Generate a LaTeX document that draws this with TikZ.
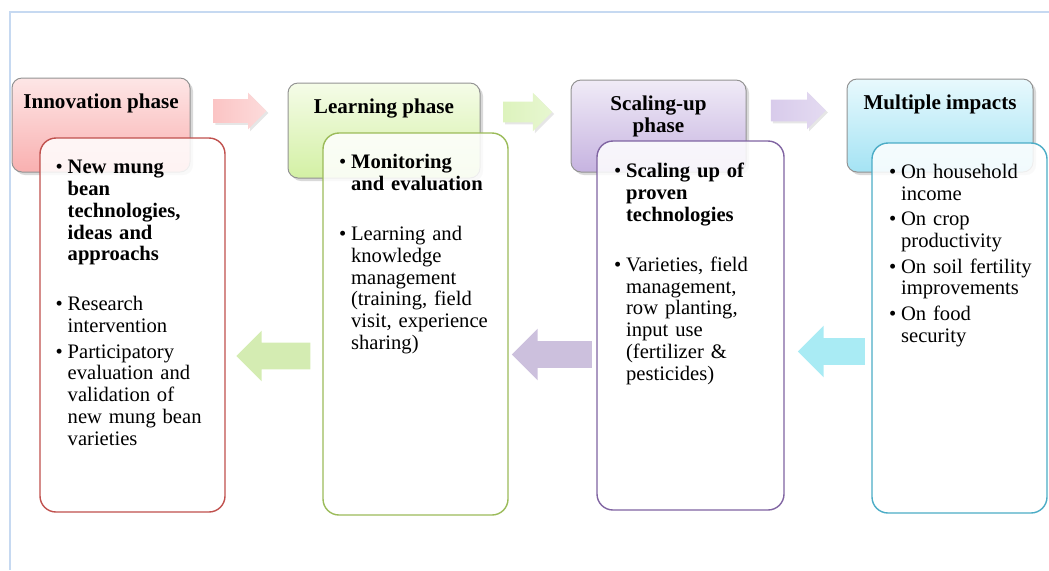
\documentclass[tikz,border=0pt]{standalone}
\usepackage{fontspec}
\setmainfont{Liberation Serif}
\usetikzlibrary{positioning,shapes.arrows,shadows}

\definecolor{frameblue}{HTML}{C6D9F1}
\definecolor{redL}{HTML}{C0504D}
\definecolor{greenL}{HTML}{9BBB59}
\definecolor{purpL}{HTML}{8064A2}
\definecolor{cyanL}{HTML}{4BACC6}
% header gradients
\definecolor{pinkT}{HTML}{FDE6E6}
\definecolor{pinkB}{HTML}{F9B0B0}
\definecolor{grnT}{HTML}{F5FCE8}
\definecolor{grnB}{HTML}{D3F0A4}
\definecolor{purT}{HTML}{F0EBF7}
\definecolor{purB}{HTML}{C6B3E0}
\definecolor{cyaT}{HTML}{E8F9FD}
\definecolor{cyaB}{HTML}{A4E3F4}
% block arrows
\definecolor{pinkA}{HTML}{FBC4C4}
\definecolor{grnA}{HTML}{DDF3BD}
\definecolor{purA}{HTML}{D8CBEB}
\definecolor{grnF}{HTML}{D4ECB2}
\definecolor{purF}{HTML}{CCC0DD}
\definecolor{cyaF}{HTML}{A9EBF4}

% one bullet item, lines split with \\
\newcommand{\itm}[1]{{\let\\\newline\hangindent=6pt\hangafter=1\noindent
  \makebox[6pt][l]{\textbullet}#1\par}}
\newcommand{\gapitm}{\vspace{12.3pt}}

\tikzset{
  hbox/.style={draw=gray!85, line width=0.5pt, rounded corners=5pt,
    drop shadow={shadow xshift=1.5pt, shadow yshift=-1.5pt, opacity=0.3}},
  hlabel/.style={inner sep=0pt, align=center, font=\fontsize{10.55}{10.6}\selectfont\bfseries},
  cbox/.style={line width=0.7pt, rounded corners=8pt, fill=white, fill opacity=0.85},
  ctext/.style={inner sep=0pt, anchor=north west, text width=86pt, align=left,
    font=\fontsize{10.3}{10.9}\selectfont\setlength{\parskip}{1.8pt}},
  barrow/.style n args={3}{single arrow, draw=none, inner xsep=0pt, inner ysep=#1,
    single arrow head extend=#2, minimum height=#3},
}

\begin{document}
\begin{tikzpicture}[x=0.5pt,y=-0.5pt]
  \useasboundingbox (0,0) rectangle (1049,570);
  \draw[frameblue, line width=0.75pt] (10,570) -- (10,12) -- (1049,12);

  % phase headers
  \node[hbox, top color=pinkT, bottom color=pinkB, minimum width=89pt, minimum height=47pt] (hInno) at (101,125) {};
  \node[hbox, top color=grnT, bottom color=grnB, minimum width=96pt, minimum height=47.5pt] (hLearn) at (384,130.5) {};
  \node[hbox, top color=purT, bottom color=purB, minimum width=87.5pt, minimum height=46pt] (hScale) at (658.5,126) {};
  \node[hbox, top color=cyaT, bottom color=cyaB, minimum width=93pt, minimum height=46.5pt] (hImpact) at (940,125.5) {};

  \node[hlabel, below=8.2pt of hInno.north] (lInno) {Innovation phase};
  \node[hlabel, below=8pt of hLearn.north] (lLearn) {Learning phase};
  \node[hlabel, below=8.2pt of hScale.north] (lScale) {Scaling-up\\phase};
  \node[hlabel, below=8.2pt of hImpact.north] (lImpact) {Multiple impacts};

  % forward arrows
  \node[barrow={5.75pt}{3.25pt}{26.5pt}, left color=pinkA, right color=pinkA!60,
    drop shadow={shadow xshift=1pt, shadow yshift=-1pt, opacity=0.2}] (aInno) at (234,111) {};
  \node[barrow={5pt}{4.5pt}{24.5pt}, left color=grnA, right color=grnA!70,
    drop shadow={shadow xshift=1pt, shadow yshift=-1pt, opacity=0.2}] (aLearn) at (522.5,112) {};
  \node[barrow={5.25pt}{4pt}{27.5pt}, left color=purA, right color=purA!70,
    drop shadow={shadow xshift=1pt, shadow yshift=-1pt, opacity=0.2}] (aScale) at (793,110.5) {};

  % detail boxes
  \node[cbox, draw=redL, minimum width=92.5pt, minimum height=187pt] (cInno) at (132.5,325) {};
  \node[cbox, draw=greenL, minimum width=92.5pt, minimum height=191pt] (cLearn) at (415.5,324) {};
  \node[cbox, draw=purpL, minimum width=93.5pt, minimum height=184.5pt] (cScale) at (690.5,325.5) {};
  \node[cbox, draw=cyanL, minimum width=87.5pt, minimum height=185pt] (cImpact) at (959.5,328) {};

  \node[ctext, below right=11.2pt and 8pt of cInno.north west] (tInno) {%
    \itm{\textbf{New mung\\bean\\technologies,\\ideas and\\approachs}}
    \gapitm
    \itm{Research\\intervention}
    \itm{Participatory\\evaluation and\\validation of\\new mung bean\\varieties}};
  \node[ctext, below right=10.8pt and 8.2pt of cLearn.north west] (tLearn) {%
    \itm{\textbf{Monitoring\\and evaluation}}
    \gapitm
    \itm{Learning and\\knowledge\\management\\(training, field\\visit, experience\\sharing)}};
  \node[ctext, below right=11.2pt and 8.7pt of cScale.north west] (tScale) {%
    \itm{\textbf{Scaling up of\\proven\\technologies}}
    \gapitm
    \itm{Varieties, field\\management,\\row planting,\\input use\\(fertilizer \&\\pesticides)}};
  \node[ctext, below right=10.8pt and 8.7pt of cImpact.north west] (tImpact) {%
    \itm{On household\\income}
    \itm{On crop\\productivity}
    \itm{On soil fertility\\improvements}
    \itm{On food\\security}};

  % feedback arrows
  \node[barrow={6.5pt}{6pt}{37pt}, shape border rotate=180, fill=grnF] (bLearn) at (280,356) {};
  \node[barrow={6.5pt}{6.25pt}{40pt}, shape border rotate=180, fill=purF] (bScale) at (558.5,354.5) {};
  \node[barrow={6.5pt}{6.25pt}{33.5pt}, shape border rotate=180, fill=cyaF] (bImpact) at (838,351.5) {};
\end{tikzpicture}
\end{document}
